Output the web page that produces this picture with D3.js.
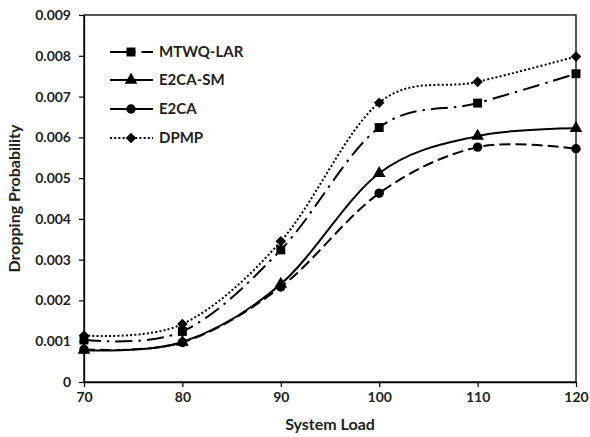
<!DOCTYPE html>
<html>
<head>
<meta charset="utf-8">
<script src="https://cdn.jsdelivr.net/npm/d3@7/dist/d3.min.js"></script>
<style>
	body { margin: 0; background: #fff; }
	text { font-family: Lato, "Open Sans", sans-serif; font-weight: bold; fill: #222; }
</style>
</head>
<body>
<div id="chart"></div>
<script>

// system load values on the x axis
var loads = [70, 80, 90, 100, 110, 120];

// dropping probability per scheme
var mtwqLar = [0.00103, 0.00124, 0.00324, 0.00624, 0.00684, 0.00756];
var e2caSm  = [0.00078, 0.00098, 0.00240, 0.00512, 0.00603, 0.00622];
var e2ca    = [0.00080, 0.00097, 0.00233, 0.00463, 0.00576, 0.00572];
var dpmp    = [0.00114, 0.00142, 0.00345, 0.00685, 0.00736, 0.00798];

var seriesNames = ["MTWQ-LAR", "E2CA-SM", "E2CA", "DPMP"];
var yTicks = [0, 0.001, 0.002, 0.003, 0.004, 0.005, 0.006, 0.007, 0.008, 0.009];
var yTickLabels = ["0", "0.001", "0.002", "0.003", "0.004", "0.005", "0.006", "0.007", "0.008", "0.009"];


var width = 590, height = 437,
	margin = {top: 15, right: 14, bottom: 55, left: 84},
	plotW = width - margin.left - margin.right,
	plotH = height - margin.top - margin.bottom;

var series = [
	{name: seriesNames[0], values: mtwqLar, dash: "17,6,2.5,6", marker: "square"},
	{name: seriesNames[1], values: e2caSm, dash: null, marker: "triangle"},
	{name: seriesNames[2], values: e2ca, dash: "11,5", marker: "circle"},
	{name: seriesNames[3], values: dpmp, dash: "2,2.2", marker: "diamond"}
];

var symbols = {
	square: d3.symbol().type(d3.symbolSquare).size(80),
	triangle: d3.symbol().type(d3.symbolTriangle).size(70),
	circle: d3.symbol().type(d3.symbolCircle).size(70),
	diamond: d3.symbol().type(d3.symbolSquare).size(56)
};

// the diamond is a square turned by 45 degrees
function markerTransform(type, px, py) {
	return "translate(" + px + "," + py + ")" + (type === "diamond" ? " rotate(45)" : "");
}

var x = d3.scaleLinear().domain([70, 120]).range([0, plotW]);
var y = d3.scaleLinear().domain([0, 0.009]).range([plotH, 0]);

var svg = d3.select("#chart")
	.append("svg")
	.attr("width", width)
	.attr("height", height);

var g = svg.append("g")
	.attr("transform", "translate(" + margin.left + "," + margin.top + ")");

// plot border
g.append("rect")
	.attr("width", plotW)
	.attr("height", plotH)
	.attr("fill", "none")
	.attr("stroke", "#000")
	.attr("stroke-width", 1.3);

var xAxis = g.append("g")
	.attr("transform", "translate(0," + plotH + ")")
	.call(d3.axisBottom(x).tickValues(loads).tickSize(5).tickPadding(5).tickSizeOuter(0));

var yAxis = g.append("g")
	.call(d3.axisLeft(y).tickValues(yTicks).tickSize(5).tickPadding(8).tickSizeOuter(0)
		.tickFormat(function(d, i) { return yTickLabels[i]; }));

[xAxis, yAxis].forEach(function(ax) {
	ax.select(".domain").attr("stroke", "#000").attr("stroke-width", 1.3);
	ax.selectAll(".tick line").attr("stroke", "#000").attr("stroke-width", 1.2);
	ax.selectAll("text")
		.style("font-family", "Lato, 'Open Sans', sans-serif")
		.style("font-weight", "bold")
		.style("font-size", "14px")
		.attr("fill", "#222");
});

var line = d3.line()
	.x(function(d, i) { return x(loads[i]); })
	.y(function(d) { return y(d); })
	.curve(d3.curveCardinal.tension(0));

series.forEach(function(s) {

	g.append("path")
		.datum(s.values)
		.attr("fill", "none")
		.attr("stroke", "#000")
		.attr("stroke-width", 2)
		.attr("stroke-dasharray", s.dash)
		.attr("d", line);

	g.selectAll(null)
		.data(s.values)
		.enter().append("path")
		.attr("transform", function(d, i) { return markerTransform(s.marker, x(loads[i]), y(d)); })
		.attr("d", symbols[s.marker])
		.attr("fill", "#000");
});

// legend
var legend = svg.append("g")
	.selectAll("g")
	.data(series)
	.enter().append("g")
	.attr("transform", function(d, i) { return "translate(110," + [52, 80, 109, 138][i] + ")"; });

legend.append("line")
	.attr("x1", 0)
	.attr("x2", 43)
	.attr("stroke", "#000")
	.attr("stroke-width", 2)
	.attr("stroke-dasharray", function(d) { return d.dash === "11,5" ? null : d.dash; });

legend.append("path")
	.attr("transform", function(d) { return markerTransform(d.marker, 21, 0); })
	.attr("d", function(d) { return symbols[d.marker](); });

legend.append("text")
	.attr("x", 49)
	.attr("dy", "0.35em")
	.style("font-size", "15px")
	.text(function(d) { return d.name; });

// axis titles
svg.append("text")
	.attr("x", margin.left + plotW / 2)
	.attr("y", 430)
	.attr("text-anchor", "middle")
	.style("font-size", "16px")
	.text("System Load");

svg.append("text")
	.attr("transform", "translate(20," + (margin.top + plotH / 2) + ") rotate(-90)")
	.attr("text-anchor", "middle")
	.style("font-size", "16px")
	.text("Dropping Probability");

</script>
</body>
</html>
